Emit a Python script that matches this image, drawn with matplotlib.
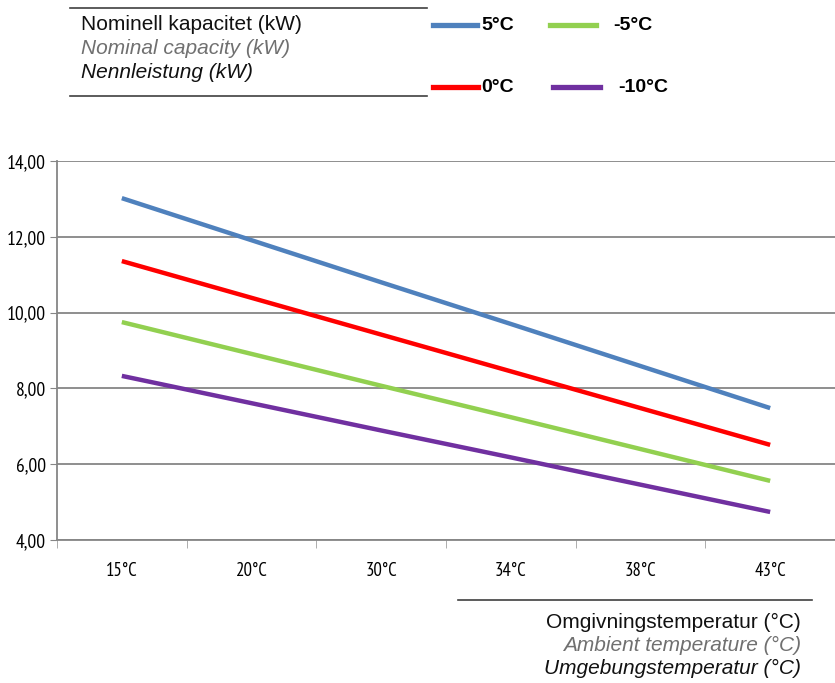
import matplotlib.pyplot as plt
from matplotlib.lines import Line2D

# data
categories = ['15°C', '20°C', '30°C', '34°C', '38°C', '43°C']
cap_5 = [13.02, 11.91, 10.80, 9.70, 8.59, 7.48]
cap_0 = [11.36, 10.39, 9.42, 8.45, 7.48, 6.51]
cap_m5 = [9.75, 8.91, 8.07, 7.24, 6.40, 5.56]
cap_m10 = [8.33, 7.61, 6.89, 6.18, 5.46, 4.74]
series_names = ['5°C', '0°C', '-5°C', '-10°C']
yticks = [4, 6, 8, 10, 12, 14]

narrow = ['PT Sans Narrow', 'DejaVu Sans']
plt.rcParams['font.family'] = ['Liberation Sans', 'DejaVu Sans']

colors = {'5°C': '#4f81bd', '0°C': '#ff0000', '-5°C': '#92d050', '-10°C': '#7030a0'}
values = {'5°C': cap_5, '0°C': cap_0, '-5°C': cap_m5, '-10°C': cap_m10}

fig = plt.figure(figsize=(8.35, 6.83), dpi=100)
ax = fig.add_axes([57 / 835, 143 / 683, 778 / 835, 379 / 683])

x = list(range(len(categories)))
for name in series_names:
    ax.plot(x, values[name], color=colors[name], linewidth=3.2, solid_capstyle='butt', zorder=3)

ax.set_xlim(-0.5, len(categories) - 0.5)
ax.set_ylim(4, 14)
ax.set_yticks(yticks)
ax.set_yticklabels([f'{v:.2f}'.replace('.', ',') for v in yticks], family=narrow, fontsize=14)
ax.set_xticks(x)
ax.set_xticklabels(categories, family=narrow, fontsize=13.5)
ax.set_xticks([i - 0.5 for i in range(len(categories) + 1)], minor=True)
ax.tick_params(axis='x', which='major', length=0, pad=16)
ax.tick_params(axis='x', which='minor', length=6, color='#a0a0a0', direction='out')
ax.tick_params(axis='y', length=5, color='#868686', pad=3)
ax.grid(axis='y', color='#868686', linewidth=1.3, zorder=0)
for s in ['top', 'right']:
    ax.spines[s].set_visible(False)
ax.spines['left'].set_color('#868686')
ax.spines['bottom'].set_color('#868686')
ax.spines['left'].set_linewidth(1.3)
ax.spines['bottom'].set_linewidth(1.3)

# header block (figure pixel coordinates)
def fx(px):
    return px / 835

def fy(py):
    return 1 - py / 683

fig.add_artist(Line2D([fx(70), fx(427)], [fy(8), fy(8)], color='#404040', linewidth=1.2))
fig.add_artist(Line2D([fx(70), fx(427)], [fy(96), fy(96)], color='#404040', linewidth=1.2))
fig.text(fx(81), fy(25), 'Nominell kapacitet (kW)', fontsize=15, color='#111111', va='center')
fig.text(fx(81), fy(49), 'Nominal capacity (kW)', fontsize=15, color='#707070', style='italic', va='center')
fig.text(fx(81), fy(73), 'Nennleistung (kW)', fontsize=15, color='#111111', style='italic', va='center')

# legend drawn by hand to keep the two-column layout
leg_line = {'5°C': (433, 477, 25), '-5°C': (550, 596, 25), '0°C': (433, 478, 87), '-10°C': (553, 600, 87)}
leg_text = {'5°C': 481, '-5°C': 613, '0°C': 481, '-10°C': 618}
for name in series_names:
    x0, x1, ly = leg_line[name]
    fig.add_artist(Line2D([fx(x0), fx(x1)], [fy(ly), fy(ly)], color=colors[name], linewidth=3.8))
    fig.text(fx(leg_text[name]), fy(ly), name, fontsize=14, fontweight='bold', va='center')

# axis title block
fig.add_artist(Line2D([fx(458), fx(812)], [fy(600), fy(600)], color='#404040', linewidth=1.2))
fig.text(fx(801), fy(622), 'Omgivningstemperatur (°C)', fontsize=15, color='#111111', ha='right', va='center')
fig.text(fx(801), fy(645), 'Ambient temperature (°C)', fontsize=15, color='#707070', style='italic', ha='right', va='center')
fig.text(fx(801), fy(668), 'Umgebungstemperatur (°C)', fontsize=15, color='#111111', style='italic', ha='right', va='center')

fig.savefig('out.png', dpi=100)
